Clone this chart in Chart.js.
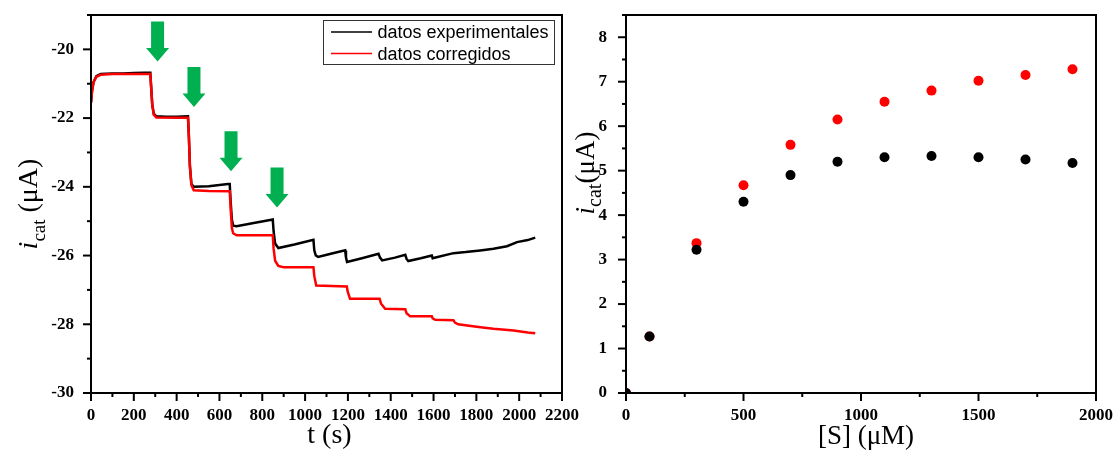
<!DOCTYPE html>
<html>
<head>
<meta charset="utf-8">
<script src="https://cdn.jsdelivr.net/npm/chart.js@4.4.0/dist/chart.umd.min.js"></script>
<style>
body { margin: 0; background: #fff; width: 1115px; height: 450px; position: relative; overflow: hidden; }
canvas { position: absolute; top: 0; }
#leftChart { left: 0; }
#rightChart { left: 565px; }
</style>
</head>
<body>
<canvas id="leftChart" width="590" height="450"></canvas>
<canvas id="rightChart" width="550" height="450"></canvas>
<script>
// left panel: amperometric trace
const expTime = [0, 5, 12, 25, 45, 100, 150, 200, 250, 277, 281, 286, 293, 305, 350, 400, 453, 457, 462, 469, 480, 550, 640, 648, 652, 658, 664, 680, 760, 849, 853, 860, 875, 950, 1039, 1043, 1050, 1061, 1120, 1187, 1191, 1196, 1270, 1343, 1350, 1360, 1420, 1468, 1474, 1482, 1540, 1592, 1596, 1600, 1693, 1750, 1818, 1880, 1943, 1990, 2040, 2075];
const expCurrent = [-21.55, -21.2, -20.95, -20.78, -20.72, -20.7, -20.7, -20.69, -20.68, -20.68, -21.1, -21.6, -21.87, -21.95, -21.96, -21.96, -21.95, -22.5, -23.4, -23.92, -24.0, -23.98, -23.92, -23.92, -24.4, -24.95, -25.13, -25.15, -25.05, -24.95, -25.3, -25.65, -25.78, -25.68, -25.54, -25.85, -26.0, -26.04, -25.95, -25.85, -26.05, -26.19, -26.07, -25.95, -26.06, -26.14, -26.06, -25.98, -26.1, -26.16, -26.08, -26.0, -26.08, -26.07, -25.93, -25.9, -25.85, -25.8, -25.73, -25.61, -25.55, -25.48];
const corTime = [0, 5, 12, 25, 45, 100, 200, 277, 281, 286, 293, 305, 400, 453, 457, 462, 469, 480, 550, 648, 652, 658, 664, 680, 849, 853, 860, 875, 900, 1039, 1043, 1052, 1195, 1199, 1210, 1348, 1355, 1374, 1468, 1474, 1491, 1592, 1596, 1608, 1693, 1700, 1715, 1810, 1880, 1974, 2040, 2075];
const corCurrent = [-21.55, -21.2, -20.95, -20.8, -20.74, -20.72, -20.72, -20.72, -21.1, -21.6, -21.9, -21.98, -21.99, -21.99, -22.5, -23.4, -23.95, -24.1, -24.12, -24.13, -24.6, -25.2, -25.35, -25.41, -25.41, -25.8, -26.15, -26.3, -26.34, -26.34, -26.6, -26.87, -26.9, -27.05, -27.26, -27.26, -27.4, -27.55, -27.56, -27.68, -27.77, -27.77, -27.83, -27.87, -27.88, -27.95, -28.0, -28.08, -28.13, -28.18, -28.24, -28.26];
const seriesNames = ["datos experimentales", "datos corregidos"];
// green arrows: where each addition was made
const arrowTime = [311, 481, 654, 869];
const arrowTip = [-20.35, -21.68, -23.55, -24.6];

// right panel: catalytic current vs substrate
const substrate = [0, 100, 300, 500, 700, 900, 1100, 1300, 1500, 1700, 1900];
const icatExp = [0, 1.27, 3.22, 4.3, 4.9, 5.2, 5.3, 5.33, 5.3, 5.25, 5.17];
const icatCor = [0, 1.27, 3.37, 4.67, 5.58, 6.15, 6.55, 6.8, 7.02, 7.15, 7.28];

const leftXTitle = "t (s)";
const rightXTitle = "[S] (\u03bcM)";
const leftYTitle = ["i", "cat", " (\u03bcA)"];
const rightYTitle = ["i", "cat", "(\u03bcA)"];

const serif = '"Liberation Serif", "Times New Roman", serif';
const tickFont = { family: serif, size: 17, weight: 'bold' };

function toPoints(xs, ys) {
    return xs.map((x, i) => ({ x: x, y: ys[i] }));
}

// keep the plot box where the layout padding puts it
function fixX(h) {
    return s => { s.height = h; s.paddingLeft = 0; s.paddingRight = 0; };
}
function fixY(w) {
    return s => { s.width = w; s.paddingTop = 0; s.paddingBottom = 0; };
}

function drawYTitle(ctx, baseX, centerY, size, subSize, subShift, parts) {
    const fonts = [`italic ${size}px ${serif}`, `${subSize}px ${serif}`, `${size}px ${serif}`];
    ctx.save();
    ctx.translate(baseX, centerY);
    ctx.rotate(-Math.PI / 2);
    const widths = parts.map((p, i) => { ctx.font = fonts[i]; return ctx.measureText(p).width; });
    let x = -widths.reduce((s, w) => s + w, 0) / 2;
    ctx.fillStyle = '#000';
    ctx.textBaseline = 'alphabetic';
    parts.forEach((p, i) => {
        ctx.font = fonts[i];
        ctx.fillText(p, x, i == 1 ? subShift : 0);
        x += widths[i];
    });
    ctx.restore();
}

function drawXTitle(ctx, text, cx, baseY, size) {
    ctx.save();
    ctx.font = `${size}px ${serif}`;
    ctx.fillStyle = '#000';
    ctx.textAlign = 'center';
    ctx.textBaseline = 'alphabetic';
    ctx.fillText(text, cx, baseY);
    ctx.restore();
}

// box around the plot + outward tick marks (long for labelled ticks)
const frameTicks = {
    id: 'frameTicks',
    afterDraw(chart) {
        const { ctx, chartArea: a, scales } = chart;
        ctx.save();
        ctx.strokeStyle = '#000';
        ctx.lineWidth = 2;
        ctx.strokeRect(a.left, a.top, a.right - a.left, a.bottom - a.top);
        scales.x.ticks.forEach((t, i) => {
            const px = scales.x.getPixelForTick(i);
            const len = t.label !== '' ? 8 : 4;
            ctx.beginPath();
            ctx.moveTo(px, a.bottom);
            ctx.lineTo(px, a.bottom + len);
            ctx.stroke();
        });
        scales.y.ticks.forEach((t, i) => {
            const py = scales.y.getPixelForTick(i);
            const len = t.label !== '' ? 8 : 4;
            ctx.beginPath();
            ctx.moveTo(a.left, py);
            ctx.lineTo(a.left - len, py);
            ctx.stroke();
        });
        ctx.restore();
    }
};

const leftDecor = {
    id: 'leftDecor',
    afterDatasetsDraw(chart) {
        const { ctx, scales } = chart;
        ctx.save();
        ctx.fillStyle = '#00b050';
        for (let i = 0; i < arrowTime.length; i++) {
            const cx = scales.x.getPixelForValue(arrowTime[i]);
            const tip = scales.y.getPixelForValue(arrowTip[i]);
            ctx.beginPath();
            ctx.moveTo(cx - 6.5, tip - 40);
            ctx.lineTo(cx + 6.5, tip - 40);
            ctx.lineTo(cx + 6.5, tip - 13.5);
            ctx.lineTo(cx + 11.5, tip - 13.5);
            ctx.lineTo(cx, tip);
            ctx.lineTo(cx - 11.5, tip - 13.5);
            ctx.lineTo(cx - 6.5, tip - 13.5);
            ctx.closePath();
            ctx.fill();
        }
        // legend box
        const a = chart.chartArea;
        const bx = a.right - 238.5, by = a.top + 5.5;
        ctx.strokeStyle = '#333';
        ctx.lineWidth = 1;
        ctx.strokeRect(bx, by, 231, 44);
        const colors = ['#000000', '#ff0000'];
        ctx.font = '18px "Liberation Sans", Arial, sans-serif';
        ctx.textBaseline = 'alphabetic';
        seriesNames.forEach((name, i) => {
            const ly = by + 11.5 + i * 21.6;
            ctx.strokeStyle = colors[i];
            ctx.lineWidth = 1.5;
            ctx.beginPath();
            ctx.moveTo(bx + 7.5, ly);
            ctx.lineTo(bx + 48.5, ly);
            ctx.stroke();
            ctx.fillStyle = '#000';
            ctx.fillText(name, bx + 54, ly + 6);
        });
        ctx.restore();
    },
    afterDraw(chart) {
        const a = chart.chartArea;
        drawYTitle(chart.ctx, 37, (a.top + a.bottom) / 2, 28, 19, 8, leftYTitle);
        drawXTitle(chart.ctx, leftXTitle, (a.left + a.right) / 2 + 3, 443, 28);
    }
};

const rightDecor = {
    id: 'rightDecor',
    afterDraw(chart) {
        drawYTitle(chart.ctx, 29, 173, 27, 20, 7, rightYTitle);
        const a = chart.chartArea;
        drawXTitle(chart.ctx, rightXTitle, (a.left + a.right) / 2 + 5, 444, 27);
    }
};

new Chart(document.getElementById('leftChart'), {
    type: 'line',
    data: {
        datasets: [{
            label: seriesNames[0],
            data: toPoints(expTime, expCurrent),
            borderColor: '#000000',
            borderWidth: 2.5,
            pointRadius: 0,
            order: 1
        }, {
            label: seriesNames[1],
            data: toPoints(corTime, corCurrent),
            borderColor: '#ff0000',
            borderWidth: 2.5,
            pointRadius: 0,
            order: 0
        }]
    },
    options: {
        responsive: false,
        animation: false,
        devicePixelRatio: 1,
        layout: { padding: { top: 15, right: 28, left: 0, bottom: 0 } },
        plugins: { legend: { display: false }, tooltip: { enabled: false } },
        scales: {
            x: {
                type: 'linear', min: 0, max: 2200,
                afterFit: fixX(57),
                grid: { display: false }, border: { display: false },
                ticks: {
                    stepSize: 100, autoSkip: false, maxRotation: 0, padding: 4,
                    color: '#000', font: tickFont,
                    callback: v => v % 200 === 0 ? v : ''
                }
            },
            y: {
                type: 'linear', min: -30, max: -19,
                afterFit: fixY(91),
                grid: { display: false }, border: { display: false },
                ticks: {
                    stepSize: 1, autoSkip: false, padding: 9,
                    color: '#000', font: tickFont,
                    callback: v => v % 2 === 0 ? v : ''
                }
            }
        }
    },
    plugins: [frameTicks, leftDecor]
});

new Chart(document.getElementById('rightChart'), {
    type: 'scatter',
    data: {
        datasets: [{
            label: seriesNames[0],
            data: toPoints(substrate, icatExp),
            backgroundColor: '#000000',
            borderWidth: 0,
            pointRadius: 5,
            clip: 0,
            order: 0
        }, {
            label: seriesNames[1],
            data: toPoints(substrate, icatCor),
            backgroundColor: '#ff0000',
            borderWidth: 0,
            pointRadius: 5,
            clip: 0,
            order: 1
        }]
    },
    options: {
        responsive: false,
        animation: false,
        devicePixelRatio: 1,
        layout: { padding: { top: 15, right: 19, left: 0, bottom: 0 } },
        plugins: { legend: { display: false }, tooltip: { enabled: false } },
        scales: {
            x: {
                type: 'linear', min: 0, max: 2000,
                afterFit: fixX(57),
                grid: { display: false }, border: { display: false },
                ticks: {
                    stepSize: 250, autoSkip: false, maxRotation: 0, padding: 4,
                    color: '#000', font: tickFont,
                    callback: v => v % 500 === 0 ? v : ''
                }
            },
            y: {
                type: 'linear', min: 0, max: 8.5,
                afterFit: fixY(61),
                grid: { display: false }, border: { display: false },
                ticks: {
                    stepSize: 0.5, autoSkip: false, padding: 11,
                    color: '#000', font: tickFont,
                    callback: v => v % 1 === 0 ? v : ''
                }
            }
        }
    },
    plugins: [frameTicks, rightDecor]
});
</script>
</body>
</html>
